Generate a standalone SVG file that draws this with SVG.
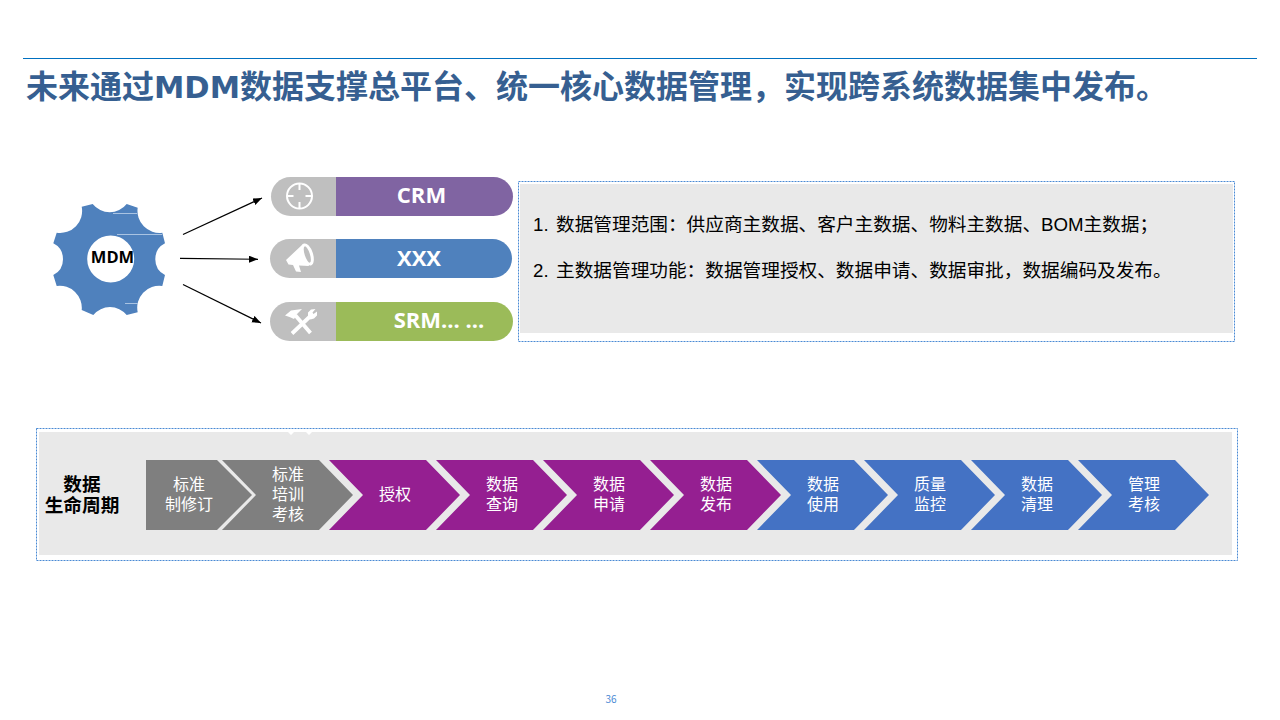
<svg xmlns="http://www.w3.org/2000/svg" width="1280" height="720" viewBox="0 0 1280 720">
<style>
text{font-family:"Noto Sans CJK SC","Noto Sans","Liberation Sans",sans-serif}
.pill{font-size:22px;font-weight:700;fill:#fff;text-anchor:middle;font-family:"Open Sans","Noto Sans CJK SC",sans-serif}
.body{font-size:18.670px;fill:#000;font-family:"Liberation Sans","Noto Sans CJK SC",sans-serif}
.chev{font-size:16px;fill:#fff;text-anchor:middle}
.head{font-size:18.670px;font-weight:700;fill:#000;text-anchor:middle}
.frame{fill:none;stroke:#4a8ad4;stroke-width:1;stroke-dasharray:2 1}
.conn{fill:none;stroke:#000;stroke-width:1.2;marker-end:url(#arrow)}
.ic{fill:#fff;stroke:none}
.ics{fill:none;stroke:#fff}
</style>
<defs>
<marker id="arrow" markerUnits="userSpaceOnUse" markerWidth="10" markerHeight="8" refX="9" refY="3.500" orient="auto"><path d="M0 0L9 3.500L0 7Z" fill="#000"/></marker>
<path id="chevron" d="M0 0H97L131 35L97 70H0L34 35Z"/>
</defs>
<rect width="1280" height="720" fill="#fff"/>
<g id="header">
<line x1="23" y1="58.500" x2="1257" y2="58.500" stroke="#0070c0" stroke-width="1"/>
<text x="26" y="98" font-size="32" font-weight="700" fill="#365f91">未来通过<tspan font-size="30.500" style="font-family:'DejaVu Sans',sans-serif">MDM</tspan>数据支撑总平台、统一核心数据管理，实现跨系统数据集中发布。</text>
</g>
<g id="mdm-gear">
<path fill="#4f81bd" fill-rule="evenodd" d="M81.700 206.700L92.700 204A21.600 21.600 0 0 0 126.700 204L137.700 207.700A22 22 0 0 0 162.300 232.700L165 243.300A17.800 17.800 0 0 0 165 275L162.300 286A22 22 0 0 0 137.700 312.300L126.700 315A21.600 21.600 0 0 0 93.300 315L81.700 310A22 22 0 0 0 56.700 286L53.300 275A17.800 17.800 0 0 0 53.300 243.300L56.700 232.700A22 22 0 0 0 81.700 206.700ZM87.200 259A23.500 23.500 0 1 0 134.200 259A23.500 23.500 0 1 0 87.200 259Z"/>
<path d="M113 213.500H137M117 234.500H162M125 303.500H138" stroke="#a9c3e2" stroke-width="1" fill="none"/>
<text x="112.500" y="263" font-size="16.500" font-weight="700" fill="#000" text-anchor="middle" style="font-family:'Open Sans',sans-serif">MDM</text>
</g>
<g id="connectors">
<line class="conn" x1="183" y1="234.500" x2="262" y2="198"/>
<line class="conn" x1="180" y1="258.300" x2="258" y2="259.300"/>
<line class="conn" x1="183" y1="284.500" x2="261" y2="323"/>
</g>
<g id="crm">
<path fill="#bfbfbf" d="M336 177H290.500A19.500 19.500 0 0 0 290.500 216H336Z"/>
<path fill="#8064a2" d="M336 177H493.500A19.500 19.500 0 0 1 493.500 216H336Z"/>
<g class="ics" stroke-width="2"><circle cx="299.500" cy="196" r="12.500"/><path d="M299.500 183V190M299.500 202V209M287 196H293.500M305.500 196H312.500"/></g>
<text class="pill" x="421.500" y="203">CRM</text>
</g>
<g id="xxx">
<path fill="#bfbfbf" d="M336 239H289.500A19.500 19.500 0 0 0 289.500 278H336Z"/>
<path fill="#4f81bd" d="M336 239H492.500A19.500 19.500 0 0 1 492.500 278H336Z"/>
<path class="ic" d="M286 260L303 244L309 266L299 265.500L301 272L296 271.500L293 265L288.500 264.500Z"/>
<ellipse class="ic" cx="307.500" cy="254.500" rx="5.500" ry="11.500" transform="rotate(-18 307.500 254.500)"/>
<ellipse cx="307.300" cy="254.500" rx="2.600" ry="8.500" fill="#bfbfbf" transform="rotate(-18 307.300 254.500)"/>
<text class="pill" x="419" y="266">XXX</text>
</g>
<g id="srm">
<path fill="#bfbfbf" d="M336 302H289.500A19.500 19.500 0 0 0 289.500 341H336Z"/>
<path fill="#9bbb59" d="M336 302H493.500A19.500 19.500 0 0 1 493.500 341H336Z"/>
<g class="ics"><path stroke-width="3.800" d="M295.500 315.500L310.500 333M292 333.500L310 316.500"/></g>
<path class="ic" d="M285 315.500L291 310.500L302 309L297.500 313.500L294 319L289.500 317Z"/>
<path class="ic" d="M308 317L308 312.500L311 309.500L315.500 309L312.500 312.500L313.500 314L317 311.500L317 315.500L314 318.500L310.500 319.500Z"/>
<text class="pill" x="439" y="328">SRM... ...</text>
</g>
<g id="scope-panel">
<rect x="520" y="184" width="713" height="149" fill="#e9e9e9"/>
<rect class="frame" x="518.500" y="181.500" width="716" height="160"/>
<text class="body" x="533" y="231">1.</text>
<text class="body" x="556" y="231">数据管理范围：供应商主数据、客户主数据、物料主数据、BOM主数据；</text>
<text class="body" x="533" y="277">2.</text>
<text class="body" x="556" y="277">主数据管理功能：数据管理授权、数据申请、数据审批，数据编码及发布。</text>
</g>
<g id="lifecycle-panel">
<rect x="39" y="432" width="1193" height="123" fill="#e9e9e9"/>
<rect class="frame" x="36.500" y="428.500" width="1201" height="132"/>
<path d="M288 432L291 435L294 432ZM306 432L309 435L312 432Z" fill="#fff"/>
<text class="head" x="82" y="491">数据</text>
<text class="head" x="82" y="512">生命周期</text>
</g>
<g id="step-1"><path fill="#7f7f7f" d="M146 460H217L252 495L217 530H146Z"/><text class="chev" x="189" y="490">标准</text><text class="chev" x="189" y="510">制修订</text></g>
<g id="step-2"><use href="#chevron" x="222" y="460" fill="#7f7f7f"/><text class="chev" x="288" y="480">标准</text><text class="chev" x="288" y="500">培训</text><text class="chev" x="288" y="520">考核</text></g>
<g id="step-3"><use href="#chevron" x="329" y="460" fill="#951f91"/><text class="chev" x="395" y="500">授权</text></g>
<g id="step-4"><use href="#chevron" x="436" y="460" fill="#951f91"/><text class="chev" x="502" y="490">数据</text><text class="chev" x="502" y="510">查询</text></g>
<g id="step-5"><use href="#chevron" x="543" y="460" fill="#951f91"/><text class="chev" x="609" y="490">数据</text><text class="chev" x="609" y="510">申请</text></g>
<g id="step-6"><use href="#chevron" x="650" y="460" fill="#951f91"/><text class="chev" x="716" y="490">数据</text><text class="chev" x="716" y="510">发布</text></g>
<g id="step-7"><use href="#chevron" x="757" y="460" fill="#4472c4"/><text class="chev" x="823" y="490">数据</text><text class="chev" x="823" y="510">使用</text></g>
<g id="step-8"><use href="#chevron" x="864" y="460" fill="#4472c4"/><text class="chev" x="930" y="490">质量</text><text class="chev" x="930" y="510">监控</text></g>
<g id="step-9"><use href="#chevron" x="971" y="460" fill="#4472c4"/><text class="chev" x="1037" y="490">数据</text><text class="chev" x="1037" y="510">清理</text></g>
<g id="step-10"><use href="#chevron" x="1078" y="460" fill="#4472c4"/><text class="chev" x="1144" y="490">管理</text><text class="chev" x="1144" y="510">考核</text></g>
<text x="611" y="703" font-size="10" fill="#4a8ad4" text-anchor="middle">36</text>
</svg>
